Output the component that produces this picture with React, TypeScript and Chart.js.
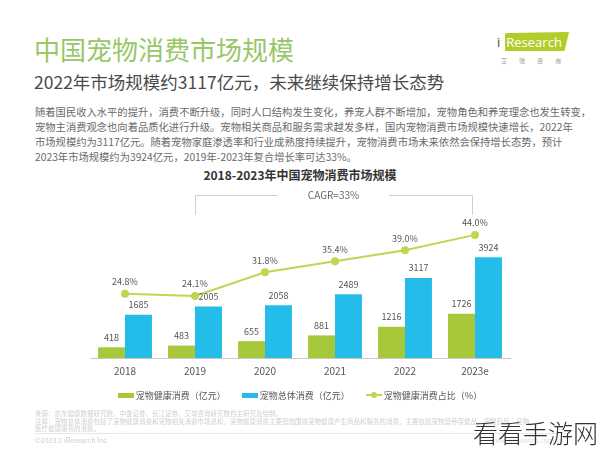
import React, { useEffect, useRef } from "react";
import { Chart, registerables } from "chart.js";

Chart.register(...registerables);

const categories = ["2018", "2019", "2020", "2021", "2022", "2023e"];
const healthSpend = [418, 483, 655, 881, 1216, 1726];
const totalSpend = [1685, 2005, 2058, 2489, 3117, 3924];
const healthShare = [24.8, 24.1, 31.8, 35.4, 39.0, 44.0];
const seriesNames = ["宠物健康消费（亿元）", "宠物总体消费（亿元）", "宠物健康消费占比（%）"];
const cagrLabel = "CAGR=33%";
const chartTitle = "2018-2023年中国宠物消费市场规模";
const pageTitle = "中国宠物消费市场规模";
const pageSubtitle = "2022年市场规模约3117亿元，未来继续保持增长态势";
const paragraphLines = [
  "随着国民收入水平的提升，消费不断升级，同时人口结构发生变化，养宠人群不断增加，宠物角色和养宠理念也发生转变，",
  "宠物主消费观念也向着品质化进行升级。宠物相关商品和服务需求越发多样，国内宠物消费市场规模快速增长，2022年",
  "市场规模约为3117亿元。随着宠物家庭渗透率和行业成熟度持续提升，宠物消费市场未来依然会保持增长态势，预计",
  "2023年市场规模约为3924亿元，2019年-2023年复合增长率可达33%。",
];
const footLines = [
  "来源：京东健康数据研究院、中金证券、长江证券、艾瑞咨询研究院自主研究及绘制。",
  "注释：宠物总体消费包括了宠物健康消费和宠物相关消费市场总和，宠物健康消费主要是指围绕宠物健康产生商品和服务的消费，主要包括宠物营养保健品、宠物药品、宠物",
  "医疗健康服务的消费。",
];

const FONT = '"Noto Sans CJK SC", "Noto Sans", sans-serif';
const GREEN = "#a7c83b";
const BLUE = "#24bce8";
const LINE = "#bfd651";

const labelPlugin = {
  id: "valueLabels",
  afterDatasetsDraw(chart: any) {
    const ctx = chart.ctx;
    ctx.save();
    ctx.font = `9px ${FONT}`;
    ctx.fillStyle = "#555";
    ctx.textAlign = "center";
    ctx.textBaseline = "middle";
    chart.data.datasets.forEach((ds: any, i: number) => {
      const meta = chart.getDatasetMeta(i);
      const isLine = ds.type === "line";
      meta.data.forEach((el: any, j: number) => {
        const v = ds.data[j];
        const text = isLine ? v.toFixed(1) + "%" : String(v);
        ctx.fillText(text, el.x, el.y - (isLine ? 12 : 10));
      });
    });
    ctx.restore();
  },
};

const cagrPlugin = {
  id: "cagrBracket",
  afterDraw(chart: any) {
    const ctx = chart.ctx;
    const xs = chart.scales.x;
    const top = chart.chartArea.top;
    const x0 = xs.getPixelForValue(1);
    const x1 = xs.getPixelForValue(5) - 3;
    const mid = (x0 + x1) / 2;
    ctx.save();
    ctx.font = `10px ${FONT}`;
    const tw = ctx.measureText(cagrLabel).width;
    const half = tw / 2 + 30;
    ctx.strokeStyle = "#cfcfcf";
    ctx.lineWidth = 1;
    ctx.beginPath();
    ctx.moveTo(x0 + 0.5, top + 20);
    ctx.lineTo(x0 + 0.5, top + 0.5);
    ctx.lineTo(mid - half, top + 0.5);
    ctx.moveTo(mid + half, top + 0.5);
    ctx.lineTo(x1 + 0.5, top + 0.5);
    ctx.lineTo(x1 + 0.5, top + 20);
    ctx.stroke();
    ctx.fillStyle = "#666";
    ctx.textAlign = "center";
    ctx.textBaseline = "middle";
    ctx.fillText(cagrLabel, mid, top);
    ctx.restore();
  },
};

function ChartBox() {
  const ref = useRef<HTMLCanvasElement>(null);
  useEffect(() => {
    if (!ref.current) return;
    const chart = new Chart(ref.current, {
      data: {
        labels: categories,
        datasets: [
          {
            type: "line",
            label: seriesNames[2],
            data: healthShare,
            yAxisID: "y1",
            borderColor: LINE,
            backgroundColor: LINE,
            pointBackgroundColor: LINE,
            pointBorderColor: LINE,
            pointRadius: 3,
            borderWidth: 2,
            tension: 0,
            order: 0,
          } as any,
          {
            type: "bar",
            label: seriesNames[0],
            data: healthSpend,
            yAxisID: "y",
            backgroundColor: GREEN,
            categoryPercentage: 0.77,
            barPercentage: 1,
            order: 1,
          },
          {
            type: "bar",
            label: seriesNames[1],
            data: totalSpend,
            yAxisID: "y",
            backgroundColor: BLUE,
            categoryPercentage: 0.77,
            barPercentage: 1,
            order: 1,
          },
        ],
      },
      options: {
        animation: false,
        responsive: false,
        devicePixelRatio: 1,
        layout: { padding: { left: 90, right: 90, top: 35, bottom: 6 } },
        scales: {
          x: {
            offset: true,
            grid: { display: false, drawTicks: false },
            border: { display: true, color: "#c8c8c8", width: 1 },
            ticks: { font: { size: 10, family: FONT }, color: "#555", padding: 7 },
          },
          y: { display: false, min: 0, max: 6353 },
          y1: { display: false, min: 3.86, max: 57.0, position: "right" },
        },
        plugins: {
          legend: { display: false },
          tooltip: { enabled: false },
        },
      },
      plugins: [labelPlugin, cagrPlugin],
    } as any);
    return () => chart.destroy();
  }, []);
  return (
    <canvas
      ref={ref}
      width={600}
      height={230}
      style={{ position: "absolute", left: 0, top: 160, width: 600, height: 230 }}
    />
  );
}

const legendColors = [GREEN, BLUE, LINE];

export default function App() {
  return (
    <div
      style={{
        position: "fixed",
        left: 0,
        top: 0,
        width: 600,
        height: 450,
        background: "#fff",
        overflow: "hidden",
        fontFamily: FONT,
      }}
    >
      <div
        style={{
          position: "absolute",
          left: 34,
          top: 35,
          fontSize: 26,
          lineHeight: "28px",
          color: "#97c768",
          whiteSpace: "nowrap",
        }}
      >
        {pageTitle}
      </div>
      <div
        style={{
          position: "absolute",
          left: 34,
          top: 72,
          fontSize: 17.5,
          lineHeight: "20px",
          color: "#4a4a4a",
          whiteSpace: "nowrap",
        }}
      >
        {pageSubtitle}
      </div>
      {/* logo */}
      <div style={{ position: "absolute", left: 497, top: 30, width: 75, height: 40 }}>
        <div
          style={{
            position: "absolute",
            left: 8,
            top: 2,
            width: 64,
            height: 19,
            background: "#b3cc2a",
            clipPath: "polygon(0 6%, 100% 0, 93% 100%, 0 100%)",
          }}
        />
        <div
          style={{
            position: "absolute",
            left: 0,
            top: 2,
            fontSize: 13,
            lineHeight: "20px",
            color: "#fff",
            fontFamily: '"Open Sans", sans-serif',
            whiteSpace: "nowrap",
          }}
        >
          <span style={{ color: "#444" }}>i</span>
          <span style={{ marginLeft: 6 }}>Research</span>
        </div>
        <div
          style={{
            position: "absolute",
            left: 4,
            top: 27,
            fontSize: 6,
            lineHeight: "8px",
            color: "#999",
            letterSpacing: 12,
            whiteSpace: "nowrap",
          }}
        >
          艾瑞咨询
        </div>
      </div>
      <div
        style={{
          position: "absolute",
          left: 35,
          top: 104,
          fontSize: 10.3,
          lineHeight: "15px",
          color: "#6a6a6a",
        }}
      >
        {paragraphLines.map((l, i) => (
          <div key={i} style={{ whiteSpace: "nowrap" }}>
            {l}
          </div>
        ))}
      </div>
      <div
        style={{
          position: "absolute",
          left: 0,
          width: 600,
          top: 167,
          textAlign: "center",
          fontSize: 12,
          lineHeight: "16px",
          fontWeight: "bold",
          color: "#333",
        }}
      >
        {chartTitle}
      </div>
      <ChartBox />
      <div
        style={{
          position: "absolute",
          left: 0,
          width: 600,
          top: 389,
          height: 12,
          display: "flex",
          justifyContent: "center",
          alignItems: "center",
          fontSize: 9,
          color: "#555",
        }}
      >
        {seriesNames.map((n, i) => (
          <div key={i} style={{ display: "flex", alignItems: "center", marginLeft: i ? 16 : 0 }}>
            {i < 2 ? (
              <div style={{ width: 16, height: 5, background: legendColors[i] }} />
            ) : (
              <div style={{ position: "relative", width: 16, height: 6 }}>
                <div style={{ position: "absolute", left: 0, top: 2, width: 16, height: 2, background: LINE }} />
                <div
                  style={{
                    position: "absolute",
                    left: 5,
                    top: 0,
                    width: 6,
                    height: 6,
                    borderRadius: 3,
                    background: LINE,
                  }}
                />
              </div>
            )}
            <span style={{ marginLeft: 2, whiteSpace: "nowrap" }}>{n}</span>
          </div>
        ))}
      </div>
      <div
        style={{
          position: "absolute",
          left: 35,
          top: 410,
          fontSize: 6.5,
          lineHeight: "7.5px",
          color: "#cfcfcf",
        }}
      >
        {footLines.map((l, i) => (
          <div key={i} style={{ whiteSpace: "nowrap" }}>
            {l}
          </div>
        ))}
      </div>
      <div style={{ position: "absolute", left: 35, top: 433, width: 530, height: 1, background: "#e6e6e6" }} />
      <div style={{ position: "absolute", left: 35, top: 436, fontSize: 7, lineHeight: "9px", color: "#cccccc" }}>
        ©2023.2 iResearch Inc.
      </div>
      <div style={{ position: "absolute", left: 490, top: 436, fontSize: 7, lineHeight: "9px", color: "#dddddd" }}>
        www.iresearch.com.cn
      </div>
      <div
        style={{
          position: "absolute",
          left: 473,
          top: 417,
          fontSize: 25,
          lineHeight: "30px",
          color: "#333",
          fontWeight: 300,
          whiteSpace: "nowrap",
        }}
      >
        看看手游网
      </div>
    </div>
  );
}
